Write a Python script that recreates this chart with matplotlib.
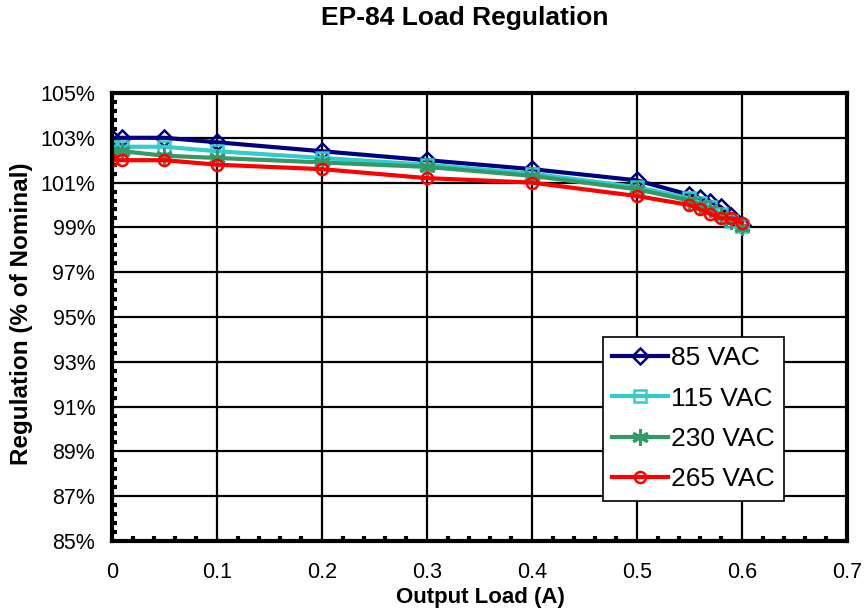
import matplotlib
matplotlib.use("Agg")
import numpy as np
import matplotlib.pyplot as plt
from matplotlib.ticker import FixedLocator, MultipleLocator, FuncFormatter

plt.rcParams['font.family'] = ['Liberation Sans', 'DejaVu Sans']

load = [0, 0.01, 0.05, 0.1, 0.2, 0.3, 0.4, 0.5, 0.55, 0.56, 0.57, 0.58, 0.59, 0.6]
vac85 = [103.0, 103.0, 103.0, 102.8, 102.4, 102.0, 101.6, 101.1, 100.45, 100.3, 100.15, 99.9, 99.5, 99.1]
vac115 = [102.6, 102.6, 102.6, 102.4, 102.1, 101.8, 101.4, 100.8, 100.3, 100.1, 99.9, 99.6, 99.3, 99.05]
vac230 = [102.4, 102.4, 102.2, 102.1, 101.9, 101.7, 101.3, 100.7, 100.2, 100.0, 99.8, 99.5, 99.3, 99.0]
vac265 = [102.0, 102.0, 102.0, 101.8, 101.6, 101.2, 101.0, 100.4, 100.0, 99.8, 99.6, 99.4, 99.4, 99.2]

series = [
    ("85 VAC", vac85, "#000080", "D"),
    ("115 VAC", vac115, "#33CCCC", "s"),
    ("230 VAC", vac230, "#339966", (6, 2, 0)),
    ("265 VAC", vac265, "#FF0000", "o"),
]

fig = plt.figure(figsize=(8.64, 6.13), dpi=100)
ax = fig.add_axes([0.1296, 0.1175, 0.8507, 0.7308])

for name, vals, col, mk in series:
    star = mk == (6, 2, 0)
    ax.plot(load, vals, color=col, lw=3, marker=mk, ms=12 if star else 8,
            markerfacecolor='none', markeredgecolor=col,
            markeredgewidth=2.2 if star else 1.8, label=name)

ax.set_xlim(0, 0.7)
ax.set_ylim(85, 105)
ax.xaxis.set_major_locator(MultipleLocator(0.1))
ax.xaxis.set_minor_locator(MultipleLocator(0.02))
ax.yaxis.set_major_locator(FixedLocator(np.arange(85, 106, 2)))
ax.yaxis.set_minor_locator(FixedLocator(np.arange(85, 105.01, 0.4)))
ax.xaxis.set_major_formatter(FuncFormatter(lambda v, p: "0" if abs(v) < 1e-9 else f"{v:.1f}"))
ax.yaxis.set_major_formatter(FuncFormatter(lambda v, p: f"{v:.0f}%"))

ax.grid(True, which='major', color='black', lw=1.6)
ax.set_axisbelow(True)
for s in ax.spines.values():
    s.set_linewidth(3)
ax.tick_params(which='major', direction='in', length=0, labelsize=15.5)
ax.tick_params(axis='x', which='major', pad=15)
ax.tick_params(axis='y', which='major', pad=12)
ax.tick_params(which='minor', direction='in', length=3.5, width=3)
ax.tick_params(axis='x', which='minor', top=False)
ax.tick_params(axis='y', which='minor', right=False)

# axis titles and chart title placed in figure coords
fig.text(480 / 864, 1 - 597 / 613, "Output Load (A)", ha='center', va='center',
         fontsize=16, fontweight='bold')
fig.text(22 / 864, 1 - 314 / 613, "Regulation (% of Nominal)", ha='center', va='center',
         rotation=90, fontsize=17.5, fontweight='bold')
fig.text(465 / 864, 1 - 18 / 613, "EP-84 Load Regulation", ha='center', va='center',
         fontsize=19, fontweight='bold')

leg = ax.legend(loc='lower right', bbox_to_anchor=(0.914, 0.09), fontsize=19,
                frameon=True, fancybox=False, edgecolor='black', framealpha=1,
                handlelength=2.1, labelspacing=0.62, borderpad=0.35,
                handletextpad=0.12, borderaxespad=0)
leg.get_frame().set_linewidth(1.2)

fig.savefig("out.png", dpi=100)
